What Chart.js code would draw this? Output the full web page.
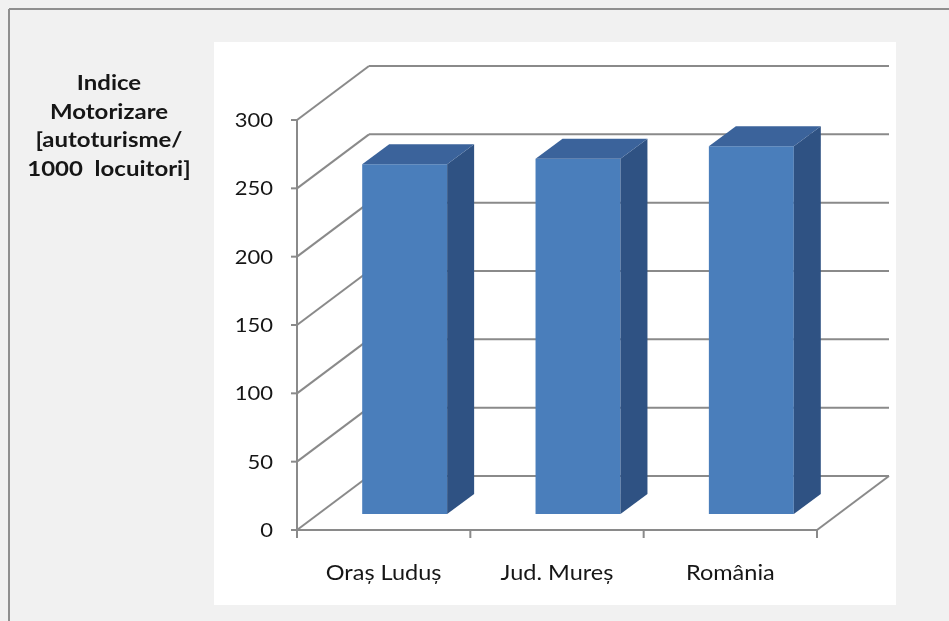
<!DOCTYPE html>
<html>
<head>
<meta charset="utf-8">
<script src="https://cdn.jsdelivr.net/npm/chart.js@4.4.1/dist/chart.umd.min.js"></script>
<style>
html, body { margin: 0; padding: 0; background: #f1f1f1; }
canvas { display: block; }
</style>
</head>
<body>
<canvas id="chart" width="949" height="621"></canvas>
<script>
// data
const categories = ['Oraș Luduș', 'Jud. Mureș', 'România'];
const indexValues = [256, 260, 269];
const yTicks = [0, 50, 100, 150, 200, 250, 300];
const axisTitle = ['Indice', 'Motorizare', '[autoturisme/', '1000  locuitori]'];

// 3d look: wall depth, bar position inside the depth, bar depth
const WALL_DX = 72, WALL_DY = -54;
const BAR_DX = 21, BAR_DY = -16;
const BAR_DEPTH_X = 27, BAR_DEPTH_Y = -20;
const gridColor = '#8a8a8a';
const fontFamily = 'Lato, "Open Sans", sans-serif';

function line(ctx, x1, y1, x2, y2) {
    ctx.beginPath();
    ctx.moveTo(x1, y1);
    ctx.lineTo(x2, y2);
    ctx.stroke();
}

//text squeezed a bit vertically, like the original
function drawText(ctx, text, x, y, sy) {
    ctx.save();
    ctx.translate(x, y);
    ctx.scale(1, sy);
    ctx.fillText(text, 0, 0);
    ctx.restore();
}

//draws the frame, walls, floor and axes behind the bars
const excel3d = {
    id: 'excel3d',
    beforeDraw(chart) {
        const ctx = chart.ctx;
        const xs = chart.scales.x, ys = chart.scales.y;
        const L = xs.left, R = xs.right, B = ys.getPixelForValue(0);

        ctx.save();
        ctx.fillStyle = '#f1f1f1';
        ctx.fillRect(0, 0, chart.width, chart.height);
        ctx.strokeStyle = '#8f8f8f';
        ctx.lineWidth = 2;
        line(ctx, 9, 9, chart.width, 9);
        line(ctx, 9, 9, 9, chart.height);
        ctx.fillStyle = '#ffffff';
        ctx.fillRect(214, 42, 682, 563);

        ctx.strokeStyle = gridColor;
        ctx.lineWidth = 2;
        // back wall and side wall grid
        yTicks.forEach(v => {
            const y = ys.getPixelForValue(v);
            line(ctx, L + WALL_DX, y + WALL_DY, R + WALL_DX, y + WALL_DY);
            line(ctx, L, y, L + WALL_DX, y + WALL_DY);
            line(ctx, L - 6, y, L, y);
        });
        // floor
        line(ctx, L, B, R, B);
        line(ctx, R, B, R + WALL_DX, B + WALL_DY);
        // front value axis
        line(ctx, L, ys.getPixelForValue(yTicks[yTicks.length - 1]), L, B);
        // category ticks
        const band = (R - L) / categories.length;
        for (let i = 0; i <= categories.length; i++) {
            line(ctx, L + i * band, B, L + i * band, B + 8);
        }
        ctx.restore();
    },
    beforeDatasetsDraw(chart) {
        chart.ctx.save();
        chart.ctx.translate(BAR_DX, BAR_DY);
    },
    afterDatasetsDraw(chart) {
        const ctx = chart.ctx;
        ctx.restore();
        ctx.save();
        chart.getDatasetMeta(0).data.forEach(bar => {
            const left = bar.x - bar.width / 2 + BAR_DX;
            const right = bar.x + bar.width / 2 + BAR_DX;
            const top = bar.y + BAR_DY;
            const bottom = bar.base + BAR_DY;
            // side face
            ctx.fillStyle = '#2f5283';
            ctx.beginPath();
            ctx.moveTo(right, top);
            ctx.lineTo(right + BAR_DEPTH_X, top + BAR_DEPTH_Y);
            ctx.lineTo(right + BAR_DEPTH_X, bottom + BAR_DEPTH_Y);
            ctx.lineTo(right, bottom);
            ctx.closePath();
            ctx.fill();
            // top face
            ctx.fillStyle = '#3b639b';
            ctx.beginPath();
            ctx.moveTo(left, top);
            ctx.lineTo(left + BAR_DEPTH_X, top + BAR_DEPTH_Y);
            ctx.lineTo(right + BAR_DEPTH_X, top + BAR_DEPTH_Y);
            ctx.lineTo(right, top);
            ctx.closePath();
            ctx.fill();
        });
        ctx.restore();
    },
    afterDraw(chart) {
        const ctx = chart.ctx;
        const xs = chart.scales.x, ys = chart.scales.y;
        ctx.save();
        ctx.fillStyle = '#161616';
        ctx.textBaseline = 'alphabetic';

        // value labels
        ctx.font = '22px ' + fontFamily;
        ctx.textAlign = 'right';
        yTicks.forEach(v => {
            drawText(ctx, String(v), xs.left - 24, ys.getPixelForValue(v) + 7, 0.88);
        });

        // category labels
        ctx.font = '23.5px ' + fontFamily;
        ctx.textAlign = 'center';
        categories.forEach((c, i) => {
            drawText(ctx, c, xs.getPixelForValue(i), ys.getPixelForValue(0) + 50, 0.9);
        });

        // axis title
        ctx.font = 'bold 24px ' + fontFamily;
        axisTitle.forEach((t, i) => {
            drawText(ctx, t, 109, 90 + i * 28.5, 0.88);
        });
        ctx.restore();
    }
};

const chart = new Chart(document.getElementById('chart'), {
    type: 'bar',
    data: {
        labels: categories,
        datasets: [{
            data: indexValues,
            backgroundColor: '#4a7ebb',
            borderWidth: 0,
            categoryPercentage: 1,
            barPercentage: 0.49,
            clip: false
        }]
    },
    options: {
        responsive: false,
        animation: false,
        devicePixelRatio: 1,
        layout: {
            padding: { left: 297, right: 132, top: 120, bottom: 91 }
        },
        scales: {
            x: { display: false },
            y: { display: false, min: 0, max: 300 }
        },
        plugins: {
            legend: { display: false },
            tooltip: { enabled: false }
        }
    },
    plugins: [excel3d]
});
</script>
</body>
</html>
